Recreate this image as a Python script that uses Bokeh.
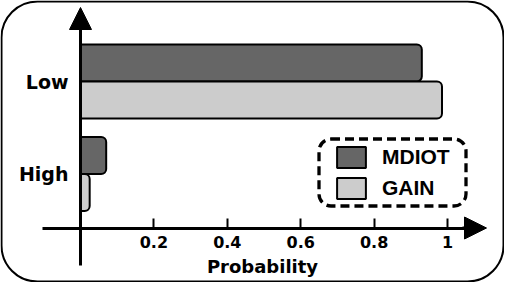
from bokeh.plotting import figure
from bokeh.models import (Range1d, FixedTicker, NumeralTickFormatter, Arrow, NormalHead,
                          BoxAnnotation, Legend, LegendItem, ColumnDataSource)
from bokeh.embed import file_html
from bokeh.resources import INLINE

# ---- data ----
categories = ["High", "Low"]
series = ["MDIOT", "GAIN"]
mdiot = [0.07, 0.93]
gain = [0.025, 0.985]
x_ticks = [0.2, 0.4, 0.6, 0.8, 1.0]
colors = ["#666666", "#cccccc"]

# ---- layout (page pixels) ----
W, H = 504, 282
PAGE = 8
X0_PX = 88.0      # page x of probability 0
PX_PER_X = 367.0
Y1_PX = 181.5     # page y of first category centre
PX_PER_Y = 92.5

def fx(px):
    return (px - X0_PX) / PX_PER_X

def fy(py):
    return 1 - (py - Y1_PX) / PX_PER_Y

x_range = Range1d(fx(PAGE), fx(PAGE + W))
y_range = Range1d(fy(PAGE + H), fy(PAGE))

p = figure(width=W, height=H, x_range=x_range, y_range=y_range,
           output_backend="svg", toolbar_location=None, min_border=0)
p.outline_line_color = None
p.grid.visible = False
p.background_fill_color = "white"
p.border_fill_color = "white"

pos = [i + 1 for i in range(len(categories))]
bar_h = 37.0 / PX_PER_Y
off = bar_h / 2

src_m = ColumnDataSource(dict(y=[v + off for v in pos], right=mdiot))
src_g = ColumnDataSource(dict(y=[v - off for v in pos], right=gain))

r_m = p.hbar(y="y", right="right", left=0, height=bar_h, source=src_m,
             fill_color=colors[0], line_color="black", line_width=2,
             border_radius=(0, 5, 5, 0))
r_g = p.hbar(y="y", right="right", left=0, height=bar_h, source=src_g,
             fill_color=colors[1], line_color="black", line_width=2,
             border_radius=(0, 5, 5, 0))

# ---- x axis ----
xa = p.xaxis[0]
xa.fixed_location = fy(235.5)
xa.bounds = (fx(50), fx(490))
xa.ticker = FixedTicker(ticks=x_ticks)
xa.formatter = NumeralTickFormatter(format="0.[0]")
xa.axis_line_width = 3
xa.axis_line_color = "black"
xa.major_tick_in = 10
xa.major_tick_out = 0
xa.minor_tick_in = 0
xa.minor_tick_out = 0
xa.major_tick_line_width = 2
xa.major_tick_line_color = "black"
xa.major_label_standoff = 8
xa.major_label_text_font = "DejaVu Sans"
xa.major_label_text_font_style = "bold"
xa.major_label_text_font_size = "16px"
xa.major_label_text_color = "black"
xa.axis_label = "Probability"
xa.axis_label_text_font = "DejaVu Sans"
xa.axis_label_text_font_style = "bold"
xa.axis_label_text_font_size = "18px"
xa.axis_label_text_color = "black"
xa.axis_label_standoff = 4

# ---- y axis ----
ya = p.yaxis[0]
ya.fixed_location = 0
ya.bounds = (fy(273), fy(30))
ya.ticker = FixedTicker(ticks=pos)
ya.major_label_overrides = {v: c for v, c in zip(pos, categories)}
ya.axis_line_width = 3
ya.axis_line_color = "black"
ya.major_tick_in = 0
ya.major_tick_out = 0
ya.minor_tick_in = 0
ya.minor_tick_out = 0
ya.major_label_standoff = 12
ya.major_label_text_font = "DejaVu Sans"
ya.major_label_text_font_style = "bold"
ya.major_label_text_font_size = "19px"
ya.major_label_text_color = "black"

# ---- arrow heads ----
p.add_layout(Arrow(end=NormalHead(size=22, fill_color="black", line_color="black"),
                   x_start=fx(470), y_start=xa.fixed_location,
                   x_end=fx(494), y_end=xa.fixed_location,
                   line_width=3, line_color="black"))
p.add_layout(Arrow(end=NormalHead(size=22, fill_color="black", line_color="black"),
                   x_start=0, y_start=fy(40), x_end=0, y_end=fy(15),
                   line_width=3, line_color="black"))

# ---- outer rounded frame ----
p.add_layout(BoxAnnotation(left=fx(9), right=fx(511), top=fy(9), bottom=fy(289),
                           fill_color=None, fill_alpha=0, line_color="black",
                           line_alpha=1, line_width=2,
                           border_radius=36, level="underlay"))

# ---- legend ----
p.add_layout(BoxAnnotation(left=fx(326.5), right=fx(473.5), top=fy(146.5), bottom=fy(213.5),
                           fill_color=None, fill_alpha=0, line_color="black", line_alpha=1,
                           line_width=3.3, line_dash="9 5", border_radius=12))
legend = Legend(items=[LegendItem(label=series[0], renderers=[r_m]),
                       LegendItem(label=series[1], renderers=[r_g])],
                location=(333, 81), orientation="vertical",
                glyph_width=36, glyph_height=26, spacing=5, padding=0, margin=0,
                label_standoff=13, border_line_color=None, background_fill_alpha=0,
                label_text_font="Liberation Sans", label_text_font_style="bold",
                label_text_font_size="21px", label_text_color="black")
p.add_layout(legend)

open("out.html", "w").write(file_html(p, INLINE))
